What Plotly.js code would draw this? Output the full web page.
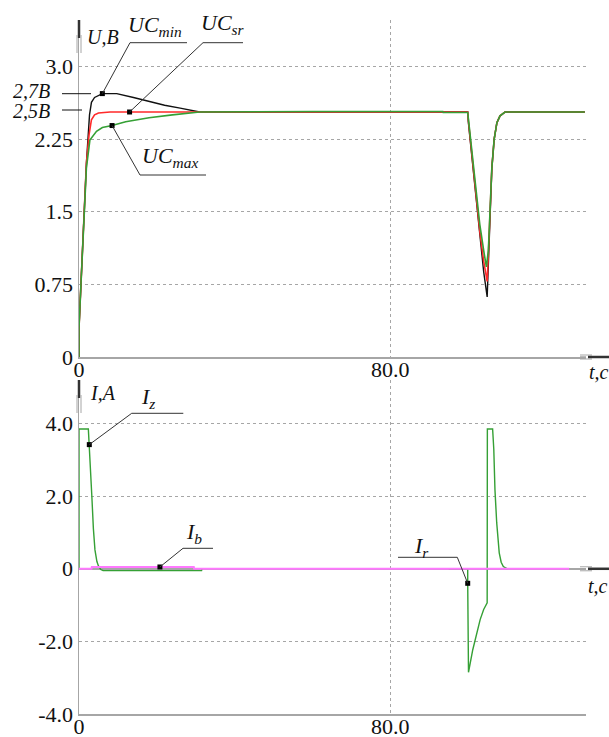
<!DOCTYPE html>
<html>
<head>
<meta charset="utf-8">
<script src="https://cdn.plot.ly/plotly-3.0.1.min.js"></script>
<style>html,body{margin:0;padding:0;background:#fff;}#chart{width:609px;height:737px;}
#chart text{font-family:'Liberation Serif','Times New Roman',serif !important;}</style>
</head>
<body>
<div id="chart"></div>
<script>
// ---------- data (t in seconds) ----------
// top panel: U, B
const tMin = [0,0,0.5,1.3,1.9,2.3,2.7,3.2,4,6,9.7,14,18,22,26,31,60,99.9,100.05,101,102,103,104,104.9,105.2,105.6,106.1,106.7,107.4,108.2,109.5,130];
const uMin = [0,0.3,0.75,1.5,2.0,2.25,2.5,2.63,2.68,2.72,2.72,2.68,2.64,2.6,2.57,2.53,2.53,2.53,2.43,2.05,1.62,1.22,0.88,0.62,1.0,1.5,1.95,2.25,2.42,2.49,2.53,2.53];
const tSr = [0,0,0.5,1.3,1.9,2.6,3.2,4,5,8,13,31,60,99.9,100.05,101,102,103,104,104.9,105.2,105.6,106.1,106.7,107.4,108.2,109.5,130];
const uSr = [0,0.3,0.75,1.5,2.0,2.3,2.45,2.5,2.52,2.53,2.53,2.53,2.53,2.53,2.45,2.08,1.68,1.3,0.99,0.78,1.05,1.5,1.95,2.25,2.42,2.49,2.53,2.53];
const tMax = [0,0,0.5,1.3,1.9,2.8,4.5,6,8.5,12,18,24,31,60,93.5,93.6,99.9,100.05,101,102,103,104,104.7,105.2,105.6,106.1,106.7,107.4,108.2,109.5,130];
const uMax = [0,0.3,0.75,1.5,1.95,2.24,2.33,2.37,2.39,2.43,2.47,2.50,2.53,2.535,2.535,2.525,2.525,2.47,2.1,1.72,1.37,1.1,0.93,1.1,1.5,1.95,2.25,2.42,2.49,2.53,2.53];
// bottom panel: I, A
const tIz = [0,0,2.4,2.65,3.0,3.3,3.7,4.1,4.6,5.0,5.6,6.2,31.5,31.6];
const iIz = [0,3.85,3.85,3.42,2.7,2.0,1.1,0.52,0.2,0.08,-0.02,-0.05,-0.05,0];
const tIb = [0,3.2,3.3,20.8,29.5,29.6,126];
const iIb = [0,0,0.05,0.05,0.05,0,0];
const tIr = [95,99.9,99.9,100.1,101.2,102,103.1,104,104.9,104.95,106.3,106.6,106.9,107.35,107.7,108,108.5,109.05,110.1];
const iIr = [0,0,-0.4,-2.85,-2.23,-1.85,-1.4,-1.12,-0.94,3.85,3.85,3.3,2.18,1.27,0.75,0.44,0.18,0.06,0];
// label point indices on the curves
const markMin = 9, markSr = 10, markMax = 8, markIz = 3, markIb = 3, markIr = 2;
// ticks
const xTickVals = [0,80], xTickText = ['0','80.0'];
const uTickVals = [0,0.75,1.5,2.25,3.0], uTickText = ['0','0.75','1.5','2.25','3.0'];
const iTickVals = [-4,-2,0,2,4], iTickText = ['-4.0','-2.0','0','2.0','4.0'];

// ---------- geometry ----------
const W=609, H=737, L=79, R=586, T=20, B=714;
const topBase=357, botTop=380;
const xRange=[0,130.3], uRange=[0,3.48], iRange=[-4,5.2];
const pX = px => (px-L)/(R-L);
const pY = py => (B-py)/(B-T);
const topPx = (t,v) => [L+(t-xRange[0])/(xRange[1]-xRange[0])*(R-L), topBase-(v-uRange[0])/(uRange[1]-uRange[0])*(topBase-T)];
const botPx = (t,v) => [L+(t-xRange[0])/(xRange[1]-xRange[0])*(R-L), B-(v-iRange[0])/(iRange[1]-iRange[0])*(B-botTop)];

const FONT = 'Liberation Serif';
const BLACK='#111111', RED='#ff2a2a', GREEN='#35a035', MAG='#ff78ff', GRAY='#a6a6a6', LEAD='#333333';

function ln(x0,y0,x1,y1,color,width){
  return {type:'line',xref:'paper',yref:'paper',x0:pX(x0),y0:pY(y0),x1:pX(x1),y1:pY(y1),line:{color:color,width:width}};
}
function txt(px,py,text,size,xa){
  return {xref:'paper',yref:'paper',x:pX(px),y:pY(py),text:text,showarrow:false,xanchor:xa||'left',yanchor:'middle',font:{family:FONT,size:size,color:BLACK}};
}

const traces = [
  {x:tMin,y:uMin,xaxis:'x',yaxis:'y',mode:'lines',line:{color:BLACK,width:1.4}},
  {x:tSr,y:uSr,xaxis:'x',yaxis:'y',mode:'lines',line:{color:RED,width:1.6}},
  {x:tMax,y:uMax,xaxis:'x',yaxis:'y',mode:'lines',line:{color:GREEN,width:1.6}},
  {x:[tMin[markMin],tSr[markSr],tMax[markMax]],y:[uMin[markMin],uSr[markSr],uMax[markMax]],xaxis:'x',yaxis:'y',mode:'markers',marker:{symbol:'square',size:5,color:'#000'}},
  {x:tIz,y:iIz,xaxis:'x2',yaxis:'y2',mode:'lines',line:{color:GREEN,width:1.4}},
  {x:tIr,y:iIr,xaxis:'x2',yaxis:'y2',mode:'lines',line:{color:GREEN,width:1.4}},
  {x:tIb,y:iIb,xaxis:'x2',yaxis:'y2',mode:'lines',line:{color:MAG,width:2}},
  {x:[tIz[markIz],tIb[markIb],tIr[markIr]],y:[iIz[markIz],iIb[markIb],iIr[markIr]],xaxis:'x2',yaxis:'y2',mode:'markers',marker:{symbol:'square',size:5,color:'#000'}}
];

// leader lines
const mMin = topPx(tMin[markMin],uMin[markMin]);
const mSr = topPx(tSr[markSr],uSr[markSr]);
const mMax = topPx(tMax[markMax],uMax[markMax]);
const mIz = botPx(tIz[markIz],iIz[markIz]);
const mIb = botPx(tIb[markIb],iIb[markIb]);
const mIr = botPx(tIr[markIr],iIr[markIr]);
const zeroY = botPx(0,0)[1];

const shapes = [
  ln(130,42.7,187,42.7,LEAD,1), ln(130,42.7,mMin[0],mMin[1],LEAD,1),
  ln(203,42.7,243,42.7,LEAD,1), ln(203,42.7,mSr[0],mSr[1],LEAD,1),
  ln(140,175,206,175,LEAD,1), ln(140,175,mMax[0],mMax[1],LEAD,1),
  ln(131.7,413.3,183.3,413.3,LEAD,1), ln(131.7,413.3,mIz[0],mIz[1],LEAD,1),
  ln(183,548.3,213,548.3,LEAD,1), ln(183,548.3,mIb[0],mIb[1],LEAD,1),
  ln(398,557.3,457.3,557.3,LEAD,1), ln(457.3,557.3,mIr[0],mIr[1],LEAD,1),
  ln(62,93.7,91,93.7,BLACK,1), ln(62,110,82,110,BLACK,1),
  // axis arrows, top panel
  ln(R,topBase,580,topBase,GRAY,1.5),
  ln(580,topBase-2,592,topBase-2,GRAY,1), ln(580,topBase+2,592,topBase+2,GRAY,1),
  ln(588,topBase,609,topBase,'#333',2.5),
  ln(L,T,L,38,'#333',2.5),
  ln(L-2,35,L-2,53,GRAY,1), ln(L+2,35,L+2,53,GRAY,1),
  // axis arrows, bottom panel
  ln(126*(R-L)/xRange[1]+L,zeroY,580,zeroY,GRAY,1.5),
  ln(580,zeroY-2,592,zeroY-2,GRAY,1), ln(580,zeroY+2,592,zeroY+2,GRAY,1),
  ln(588,zeroY,609,zeroY,'#333',2.5),
  ln(L,botTop,L,398,'#333',2.5),
  ln(L-2,395,L-2,413,GRAY,1), ln(L+2,395,L+2,413,GRAY,1)
];

const annotations = [
  txt(85,37,'<i>U,B</i>',20),
  txt(126,26,'<i>U</i><i>C</i><sub><i>min</i></sub>',22),
  txt(199,24,'<i>U</i><i>C</i><sub><i>sr</i></sub>',22),
  txt(140,157,'<i>U</i><i>C</i><sub><i>max</i></sub>',22),
  txt(11,91,'<i>2,7B</i>',20),
  txt(11,111,'<i>2,5B</i>',20),
  txt(587,372,'<i>t,c</i>',20),
  txt(586,586,'<i>t,c</i>',20),
  txt(88,393,'<i>I,A</i>',20),
  txt(139,398,'<i>I</i><sub><i>z</i></sub>',22),
  txt(184,533,'<i>I</i><sub><i>b</i></sub>',22),
  txt(412,547,'<i>I</i><sub><i>r</i></sub>',22)
];

const axX = {range:xRange,tickmode:'array',tickvals:xTickVals,ticktext:xTickText,showgrid:true,gridcolor:GRAY,griddash:'3px,3px',gridwidth:1,
  showline:true,linecolor:GRAY,linewidth:1.5,zeroline:false,ticks:'',ticklabelstandoff:-8,tickfont:{family:FONT,size:22,color:BLACK},fixedrange:true};
const layout = {
  width:W,height:H,margin:{l:L,r:W-R,t:T,b:H-B},paper_bgcolor:'#fff',plot_bgcolor:'#fff',showlegend:false,
  font:{family:FONT,color:BLACK},
  xaxis:Object.assign({},axX,{anchor:'y',domain:[0,1]}),
  xaxis2:Object.assign({},axX,{anchor:'y2',domain:[0,1]}),
  yaxis:{domain:[pY(topBase),1],range:uRange,anchor:'x',tickmode:'array',tickvals:uTickVals,ticktext:uTickText,showgrid:true,gridcolor:GRAY,griddash:'3px,3px',
    showline:true,linecolor:GRAY,linewidth:1.5,zeroline:false,ticks:'',tickfont:{family:FONT,size:22,color:BLACK}},
  yaxis2:{domain:[0,pY(botTop)],range:iRange,anchor:'x2',tickmode:'array',tickvals:iTickVals,ticktext:iTickText,showgrid:true,gridcolor:GRAY,griddash:'3px,3px',
    showline:true,linecolor:GRAY,linewidth:1.5,zeroline:true,zerolinecolor:GRAY,zerolinewidth:1.5,ticks:'',tickfont:{family:FONT,size:22,color:BLACK}},
  shapes:shapes,annotations:annotations
};
Plotly.newPlot('chart',traces,layout,{staticPlot:true,displayModeBar:false});
</script>
</body>
</html>
